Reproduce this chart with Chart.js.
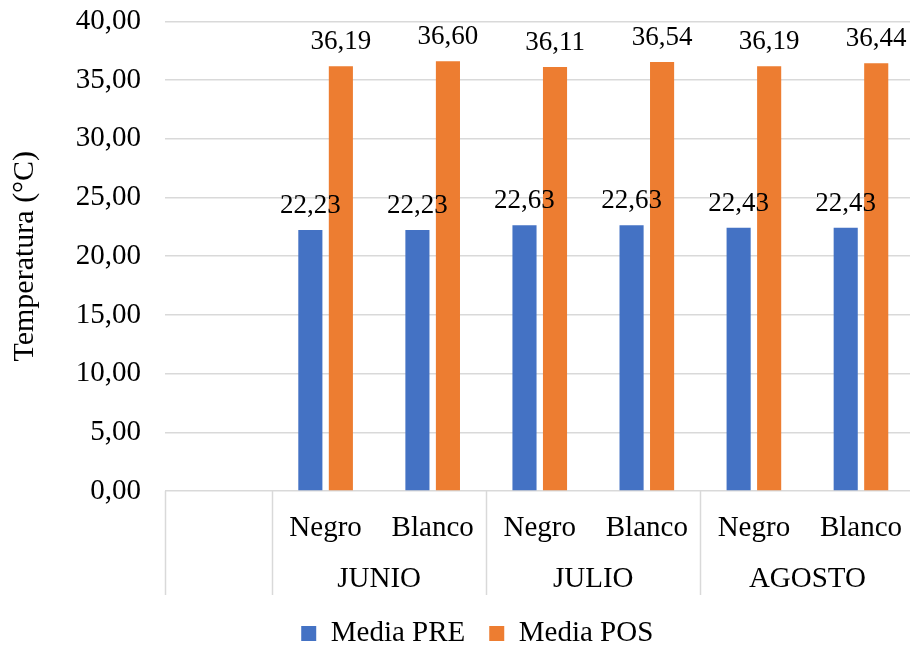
<!DOCTYPE html>
<html lang="es">
<head>
    <meta charset="UTF-8">
    <title>Temperatura media PRE / POS</title>
    <script src="https://cdn.jsdelivr.net/npm/chart.js"></script>
    <style>
        html, body { margin: 0; padding: 0; overflow: hidden; background: #fff; }
        /* el eje Y reserva arriba espacio de mas, se sube el lienzo para compensar */
        #wrap { position: relative; top: -20px; width: 916px; height: 678px; }
    </style>
</head>
<body>
    <div id="wrap"><canvas id="tempChart"></canvas></div>

    <script>
        // Categorias (la primera queda vacia, como en la hoja original)
        const colores = ['', 'Negro', 'Blanco', 'Negro', 'Blanco', 'Negro', 'Blanco'];
        const meses = ['JUNIO', 'JULIO', 'AGOSTO'];
        // centro de cada mes sobre el eje de categorias (indices)
        const posMeses = [1.5, 3.5, 5.5];
        // limites de grupo donde se dibujan las divisiones del eje
        const divisiones = [0, 1, 3, 5, 7];

        const mediaPre = [null, 22.23, 22.23, 22.63, 22.63, 22.43, 22.43];
        const mediaPos = [null, 36.19, 36.60, 36.11, 36.54, 36.19, 36.44];

        const yTicks = [0, 5, 10, 15, 20, 25, 30, 35, 40];

        const fuente = '"Liberation Serif", "Times New Roman", serif';
        const gris = '#d9d9d9';
        const fmt = v => v.toFixed(2).replace('.', ',');

        // Etiquetas de valor encima de cada barra
        const valueLabels = {
            id: 'valueLabels',
            afterDatasetsDraw(chart) {
                const ctx = chart.ctx;
                ctx.save();
                ctx.font = '27px ' + fuente;
                ctx.fillStyle = '#000';
                ctx.textAlign = 'center';
                ctx.textBaseline = 'alphabetic';
                chart.data.datasets.forEach((ds, i) => {
                    chart.getDatasetMeta(i).data.forEach((bar, j) => {
                        const v = ds.data[j];
                        if (v == null) return;
                        ctx.fillText(fmt(v), bar.x, bar.y - 17);
                    });
                });
                ctx.restore();
            }
        };

        // Segundo nivel del eje X (meses) y lineas que separan los grupos
        const groupAxis = {
            id: 'groupAxis',
            afterDraw(chart) {
                const x = chart.scales.x;
                const ctx = chart.ctx;
                ctx.save();
                ctx.strokeStyle = gris;
                ctx.lineWidth = 1.5;
                divisiones.forEach(d => {
                    const px = Math.round(x.getPixelForValue(d - 0.5)) + 0.5;
                    ctx.beginPath();
                    ctx.moveTo(px, x.top);
                    ctx.lineTo(px, x.bottom);
                    ctx.stroke();
                });
                ctx.font = '29px ' + fuente;
                ctx.fillStyle = '#000';
                ctx.textAlign = 'center';
                ctx.textBaseline = 'alphabetic';
                meses.forEach((m, i) => {
                    ctx.fillText(m, x.getPixelForValue(posMeses[i]), x.top + 96);
                });
                ctx.restore();
            }
        };

        const ctx = document.getElementById('tempChart').getContext('2d');
        new Chart(ctx, {
            type: 'bar',
            data: {
                labels: colores,
                datasets: [
                    { label: 'Media PRE', data: mediaPre, backgroundColor: '#4472C4' },
                    { label: 'Media POS', data: mediaPos, backgroundColor: '#ED7D31' }
                ]
            },
            options: {
                responsive: true,
                maintainAspectRatio: false,
                animation: false,
                categoryPercentage: 0.57,
                barPercentage: 0.79,
                layout: { padding: { left: 40, right: 1.5, top: 0, bottom: 0 } },
                plugins: {
                    tooltip: { enabled: false },
                    legend: {
                        position: 'bottom',
                        labels: {
                            font: { family: fuente, size: 29 },
                            color: '#000',
                            boxWidth: 15,
                            boxHeight: 15,
                            padding: 24
                        }
                    }
                },
                scales: {
                    x: {
                        type: 'category',
                        position: 'bottom',
                        grid: { display: false },
                        border: { display: false },
                        ticks: {
                            font: { family: fuente, size: 29 },
                            color: '#000',
                            padding: 12,
                            maxRotation: 0,
                            autoSkip: false
                        },
                        afterFit(scale) { scale.height = 104; }
                    },
                    y: {
                        min: 0,
                        max: 40,
                        afterBuildTicks(scale) {
                            scale.ticks = yTicks.map(v => ({ value: v }));
                        },
                        grid: { color: gris, lineWidth: 1.5, drawTicks: false },
                        border: { display: false },
                        ticks: {
                            font: { family: fuente, size: 29 },
                            color: '#000',
                            padding: 24,
                            callback: v => fmt(v)
                        },
                        title: {
                            display: true,
                            text: 'Temperatura (°C)',
                            font: { family: fuente, size: 30 },
                            color: '#000',
                            padding: { top: -33, bottom: 0 }
                        },
                        afterFit(scale) { scale.width = 125; }
                    }
                }
            },
            plugins: [valueLabels, groupAxis]
        });
    </script>
</body>
</html>
